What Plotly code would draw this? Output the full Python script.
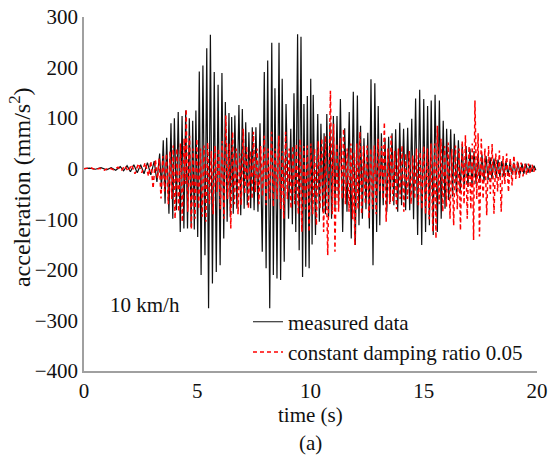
import plotly.graph_objects as go

black_t = [0.00, 0.25, 0.50, 0.75, 1.00, 1.20, 1.40, 1.60, 1.75, 1.90, 2.05, 2.20, 2.35, 2.50, 2.65, 2.80, 2.95,
           3.10, 3.22, 3.34, 3.42, 3.50, 3.58, 3.65, 3.75, 3.84, 3.92, 3.99, 4.08, 4.16, 4.25, 4.33, 4.41, 4.49,
           4.57, 4.65, 4.73, 4.80, 4.87, 4.94, 5.02, 5.09, 5.17, 5.25, 5.34, 5.42, 5.50, 5.58, 5.67, 5.75, 5.84,
           5.92, 6.01, 6.09, 6.17, 6.24, 6.32, 6.40, 6.46, 6.52, 6.59, 6.66, 6.75, 6.84, 6.92, 6.99, 7.07, 7.14,
           7.21, 7.28, 7.36, 7.43, 7.51, 7.59, 7.68, 7.77, 7.87, 7.96, 8.04, 8.11, 8.20, 8.29, 8.36, 8.43, 8.52,
           8.61, 8.68, 8.75, 8.84, 8.92, 9.03, 9.13, 9.20, 9.27, 9.35, 9.43, 9.50, 9.58, 9.65, 9.71, 9.79, 9.86,
           9.94, 10.01, 10.07, 10.12, 10.22, 10.32, 10.39, 10.46, 10.54, 10.60, 10.66, 10.72, 10.80, 10.86, 10.93,
           11.01, 11.08, 11.17, 11.24, 11.32, 11.42, 11.51, 11.61, 11.71, 11.80, 11.89, 11.98, 12.07, 12.14, 12.21,
           12.29, 12.36, 12.45, 12.53, 12.60, 12.67, 12.76, 12.84, 12.92, 12.99, 13.06, 13.13, 13.21, 13.29, 13.37,
           13.45, 13.52, 13.60, 13.68, 13.76, 13.85, 13.94, 14.02, 14.11, 14.20, 14.29, 14.38, 14.47, 14.55, 14.64,
           14.73, 14.82, 14.91, 15.00, 15.08, 15.17, 15.25, 15.33, 15.42, 15.50, 15.60, 15.69, 15.77, 15.86, 15.94,
           16.01, 16.10, 16.19, 16.27, 16.35, 16.44, 16.53, 16.61, 16.70, 16.78, 16.87, 16.95, 17.04, 17.13, 17.22,
           17.31, 17.40, 17.48, 17.57, 17.66, 17.75, 17.84, 17.93, 18.01, 18.10, 18.19, 18.28, 18.36, 18.45, 18.54,
           18.63, 18.72, 18.81, 18.90, 18.98, 19.07, 19.16, 19.25, 19.34, 19.42, 19.51, 19.60, 19.69, 19.78, 19.87,
           19.95]
black_v = [0, 1, -1, 2, -2, 2, -3, 4, -4, 6, -6, 8, -8, 8, -10, 12, -12,
           15, -26, 30, -40, 56, -69, 61, -89, 90, -99, 100, -82, 112, -125, 104, -118, 115,
           -118, 100, -115, 95, -120, 115, -135, 192, -210, 204, -171, 238, -276, 265, -227, 191, -204,
           166, -191, 189, -138, 132, -105, 110, -95, 102, -89, 105, -79, 126, -92, 118, -79, 92,
           -72, 72, -78, 82, -82, 82, -85, 90, -164, 191, -197, 214, -276, 249, -210, 159, -217,
           249, -220, 178, -184, 128, -99, 79, -110, 149, -125, 266, -161, 261, -214, 128, -194, 144,
           -197, 178, -150, 146, -131, 108, -105, 89, -85, 70, -90, 108, -95, 90, -99,
           104, -80, 104, -72, 138, -125, 80, -85, 112, -138, 152, -151, 145, -112, 85,
           -99, 60, -80, 71, -118, 177, -191, 169, -125, 124, -112, 70, -72, 60, -85,
           63, -66, 70, -72, 78, -85, 91, -72, 79, -82, 81, -82, 99, -100, 139,
           -131, 156, -151, 138, -125, 124, -112, 135, -131, 146, -125, 135, -99, 95, -79,
           79, -62, 78, -55, 69, -49, 56, -45, 49, -40, 45, -36, 40, -33, 35,
           -30, 30, -28, 28, -25, 25, -22, 22, -20, 20, -18, 18, -16, 15, -15,
           15, -14, 14, -12, 12, -12, 12, -10, 10, -10, 10, -8, 8, -6, 6,
           -3]

# ---- constant damping ratio 0.05 (red dashed) ----
red_t = [0.00, 0.30, 0.50, 0.70, 0.90, 1.10, 1.30, 1.50, 1.65, 1.80, 1.95, 2.10, 2.25, 2.40, 2.55, 2.70, 2.85,
         2.95, 3.05, 3.15, 3.25, 3.32, 3.40, 3.48, 3.56, 3.64, 3.72, 3.80, 3.88, 3.94, 4.02, 4.10, 4.18, 4.26,
         4.34, 4.42, 4.47, 4.51, 4.58, 4.66, 4.74, 4.82, 4.90, 4.98, 5.06, 5.14, 5.22, 5.30, 5.38, 5.46, 5.54,
         5.62, 5.70, 5.78, 5.86, 5.94, 6.02, 6.10, 6.18, 6.26, 6.34, 6.42, 6.48, 6.56, 6.64, 6.72, 6.80, 6.88,
         6.94, 7.03, 7.10, 7.18, 7.26, 7.34, 7.42, 7.48, 7.56, 7.64, 7.72, 7.80, 7.88, 7.96, 8.04, 8.12, 8.20,
         8.28, 8.36, 8.44, 8.52, 8.60, 8.68, 8.76, 8.82, 8.90, 8.98, 9.06, 9.14, 9.22, 9.30, 9.38, 9.46, 9.54,
         9.62, 9.70, 9.78, 9.86, 9.94, 10.02, 10.10, 10.18, 10.26, 10.34, 10.42, 10.50, 10.58, 10.66, 10.76,
         10.88, 10.96, 11.02, 11.08, 11.16, 11.24, 11.32, 11.40, 11.46, 11.54, 11.62, 11.70, 11.78, 11.86,
         11.90, 11.96, 12.04, 12.10, 12.18, 12.26, 12.34, 12.42, 12.50, 12.58, 12.66, 12.74, 12.82, 12.90,
         12.98, 13.06, 13.14, 13.20, 13.26, 13.34, 13.42, 13.50, 13.56, 13.64, 13.72, 13.80, 13.88, 13.96,
         14.04, 14.12, 14.20, 14.28, 14.36, 14.44, 14.52, 14.60, 14.68, 14.76, 14.84, 14.92, 15.00, 15.08,
         15.16, 15.24, 15.32, 15.40, 15.48, 15.54, 15.60, 15.68, 15.76, 15.84, 15.92, 16.00, 16.08, 16.16,
         16.24, 16.32, 16.40, 16.48, 16.56, 16.62, 16.70, 16.78, 16.84, 16.92, 17.00, 17.08, 17.14, 17.20,
         17.26, 17.34, 17.40, 17.46, 17.54, 17.62, 17.70, 17.78, 17.86, 17.94, 18.02, 18.10, 18.18, 18.26,
         18.34, 18.42, 18.50, 18.58, 18.66, 18.74, 18.82, 18.90, 18.98, 19.06, 19.14, 19.22, 19.30, 19.38,
         19.46, 19.54, 19.62, 19.70, 19.78, 19.86, 19.92]
red_v = [0, 2, -2, 1, -3, 2, -2, 3, -4, 6, -5, 8, -10, 10, -8, 12, -15,
         15, -39, 18, -20, 20, -59, 25, -45, 30, -70, 35, -60, 46, -99, 40, -85, 50,
         -105, 60, -30, 118, -85, 65, -120, 40, -99, 59, -80, 40, -95, 46, -105, 52, -70,
         35, -90, 46, -46, 40, -80, 55, -99, 105, -60, 50, -118, 73, -70, 40, -90, 30,
         -72, 79, -50, 45, -79, 35, -60, 73, -46, 40, -70, 45, -55, 65, -72, 40, -60,
         73, -75, 40, -60, 65, -80, 35, -99, 73, -60, 40, -79, 45, -70, 50, -90, 59,
         -125, 45, -80, 46, -125, 50, -90, 40, -112, 55, -80, 60, -125, 65, -171,
         154, -90, 89, -164, 50, -85, 60, -60, 79, -70, 40, -85, 50, -100,
         33, -151, 50, -80, 73, -90, 45, -70, 46, -99, 40, -80, 46, -90,
         59, -46, 45, -60, 92, -105, 40, -70, 65, -66, 35, -80, 40, -60,
         46, -85, 30, -60, 35, -70, 26, -60, 40, -72, 33, -80, 45, -90,
         40, -100, 50, -125, 50, -138, 85, -70, 59, -85, 45, -75, 52, -99,
         39, -112, 46, -80, 40, -122, 55, -70, 66, -99, 45, -80, 50, -141,
         135, -60, 70, -134, 59, -60, 40, -92, 45, -50, 49, -89, 30, -45,
         36, -85, 25, -30, 30, -46, 20, -33, 26, -20, 15, -18, 12, -15,
         10, -12, 10, -10, 8, -6, 5]

x_ticks = [0, 5, 10, 15, 20]
y_ticks = [-400, -300, -200, -100, 0, 100, 200, 300]

FONT = "Liberation Serif"
AXIS_COLOR = "#a0a0a0"

fig = go.Figure()
fig.add_trace(go.Scatter(x=black_t, y=black_v, mode="lines", name="measured data",
                         line=dict(color="#111111", width=1.2)))
fig.add_trace(go.Scatter(x=red_t, y=red_v, mode="lines", name="constant damping ratio 0.05",
                         line=dict(color="#ff0000", width=1.5, dash="4px,3px")))

fig.update_layout(
    width=549, height=456,
    margin=dict(l=84, r=12, t=17, b=85, autoexpand=False),
    paper_bgcolor="white", plot_bgcolor="white",
    font=dict(family=FONT, size=21, color="#111111"),
    showlegend=True,
    legend=dict(x=0.362, y=0.196, xanchor="left", yanchor="top",
                bgcolor="rgba(0,0,0,0)", borderwidth=0,
                font=dict(family=FONT, size=21, color="#111111"),
                tracegroupgap=0),
    xaxis=dict(range=[0, 20], tickvals=x_ticks, showgrid=False, zeroline=False,
               showline=True, linecolor=AXIS_COLOR, linewidth=1.5, ticks="",
               automargin=False, tickfont=dict(family=FONT, size=21)),
    yaxis=dict(range=[-400, 300], tickvals=y_ticks, showgrid=False, zeroline=False,
               showline=True, linecolor=AXIS_COLOR, linewidth=1.5, ticks="",
               automargin=False, tickfont=dict(family=FONT, size=21)),
    annotations=[
        dict(text="10 km/h", xref="paper", yref="paper", x=0.053, y=0.186,
             xanchor="left", yanchor="middle", showarrow=False, font=dict(family=FONT, size=21)),
        dict(text="time (s)", xref="paper", yref="paper", x=0.5, y=-0.125,
             xanchor="center", yanchor="middle", showarrow=False, font=dict(family=FONT, size=21)),
        dict(text="(a)", xref="paper", yref="paper", x=0.5, y=-0.203,
             xanchor="center", yanchor="middle", showarrow=False, font=dict(family=FONT, size=21)),
        dict(text="acceleration (mm/s<sup>2</sup>)", xref="paper", yref="paper", x=-0.141, y=0.52,
             xanchor="center", yanchor="middle", textangle=-90, showarrow=False,
             font=dict(family=FONT, size=24)),
    ],
)

fig.write_html("out.html")
